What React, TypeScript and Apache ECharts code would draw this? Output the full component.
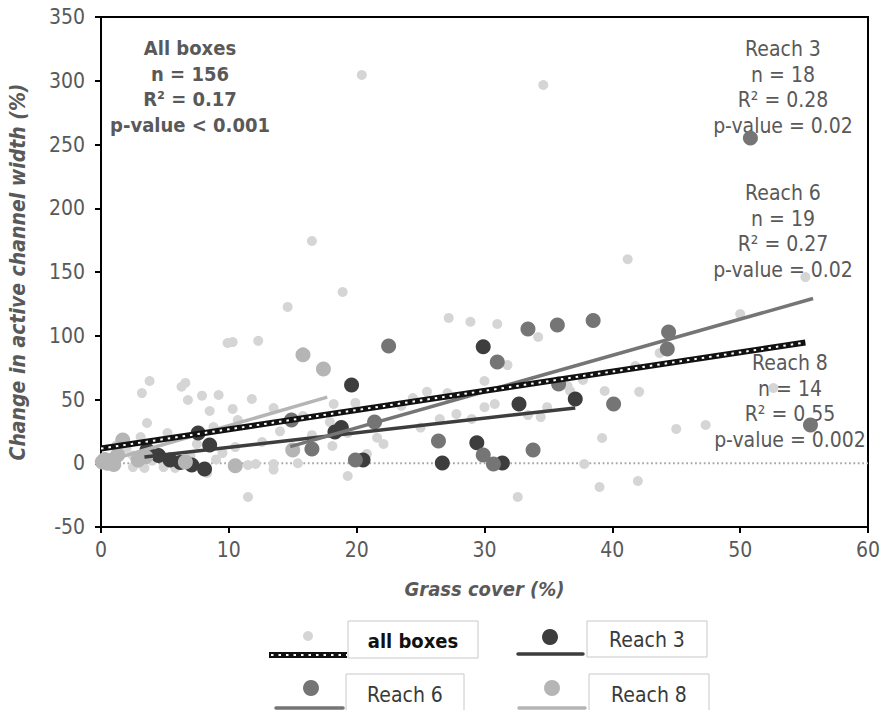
import React, { useEffect, useRef } from "react";
import * as echarts from "echarts";

const FONT = "'DejaVu Sans Condensed', 'DejaVu Sans', sans-serif";
const GRAY_TEXT = "#595959";

const xTickValues = [0, 10, 20, 30, 40, 50, 60];
const yTickValues = [-50, 0, 50, 100, 150, 200, 250, 300, 350];

const seriesNames = ["all boxes", "Reach 3", "Reach 6", "Reach 8"];

// all boxes (small light points) [grass cover %, change in width %]
const allBoxesPoints: [number, number][] = [
  [20.4, 304.5], [34.6, 296.7], [41.2, 160], [16.5, 174.3], [18.9, 134.3], [14.6, 122.6],
  [27.2, 114], [28.9, 111], [31, 109.2], [34.2, 99], [9.9, 94.3], [10.3, 95], [12.3, 96],
  [3.8, 64.5], [3.2, 55], [6.3, 60], [6.6, 63], [7.9, 53], [9.2, 53.5], [6.8, 49.6],
  [11.8, 50.4], [8.5, 41], [10.3, 42.6], [13.5, 43.3], [3.6, 31.6], [8.8, 28.4], [10.7, 33.9],
  [3.1, 20.5], [5.2, 23.7], [10.5, 12.7], [12.6, 16.7], [15.8, 37], [18.2, 46.5], [19.9, 47.3],
  [17.9, 32.3], [18.1, 13.5], [21.6, 20], [22.1, 15.1], [19.3, -10], [11.5, -26.5], [15.4, 0],
  [11.5, -1.4], [12.1, -0.6], [13.5, -0.6], [13.5, -5], [2.5, -3], [3.4, -3.7], [4.9, -3],
  [5.8, -3.7], [8.3, -7.6], [0.5, 2], [1, 5], [1.5, 8], [2, 12], [2.5, 6], [3, 0], [4, 2],
  [4.5, 8], [5, -1], [6, 4], [7, 6], [9, 3], [9.5, 8], [31.8, 77], [30, 64.5], [24.4, 51.2],
  [25.5, 56], [27.1, 55], [27.2, 52], [27.8, 38.6], [26.5, 34.7], [29, 34.7], [30, 44],
  [30.8, 46.5], [33.4, 37.8], [34.4, 36.2], [34.9, 44], [36.5, 60.6], [36.7, 56.7], [37.7, 65.3],
  [39.4, 56.7], [42.1, 56], [41.8, 76.3], [43.7, 86.5], [39.2, 19.8], [45, 26.9], [37.8, -0.6],
  [39, -18.6], [42, -13.9], [32.6, -26.5], [20.8, 7.3], [19.3, 23.7], [47.3, 30], [55.1, 146],
  [50, 117], [52.6, 59], [23.5, 45], [25, 28], [14, 25], [16.5, 22], [7.5, 15], [1.2, 14],
];

const reach3Points: [number, number][] = [
  [3.6, 10.4], [5.4, 2.5], [7.1, -1.4], [8.1, -4.5], [8.5, 14.3], [7.6, 23.7], [18.3, 24.5],
  [19.6, 61.4], [20.5, 2.5], [26.7, 0.2], [29.4, 16], [29.9, 91.3], [31.4, 0.2], [32.7, 46.5],
  [37.1, 50.4], [6.2, 0.5], [4.5, 6], [18.8, 28],
];

const reach6Points: [number, number][] = [
  [50.8, 255], [22.5, 92], [33.4, 105.3], [35.7, 108.4], [38.5, 112], [44.4, 103], [44.3, 89.6],
  [31, 79.5], [35.8, 62.2], [40.1, 46.5], [26.4, 17.5], [29.9, 6.5], [30.7, -0.6], [33.8, 10.4],
  [16.5, 11.2], [21.4, 32.3], [19.9, 2.5], [14.9, 33.9], [55.5, 30],
];

const reach8Points: [number, number][] = [
  [0.1, 1], [0.5, 0], [0.9, 2.5], [1.3, 6.5], [1.7, 18.2], [2.9, 2.5], [3.5, 5], [6.6, 1],
  [10.5, -2], [15, 10.4], [15.8, 85], [17.4, 74], [0.3, 3], [1.0, -1],
];

// trend lines: [intercept, slope, x start, x end]
const trendAll = [11.5, 1.51, 0, 55.1];
const trendReach3 = [1.1, 1.14, 3.4, 37.1];
const trendReach6 = [-29, 2.84, 14.8, 55.7];
const trendReach8 = [0.5, 2.9, 0.3, 17.7];

const zeroLine: [number, number][] = [[0, 0], [60, 0]];

const statsAll = ["All boxes", "n = 156", "R² = 0.17", "p-value < 0.001"];
const statsReach3 = ["Reach 3", "n = 18", "R² = 0.28", "p-value = 0.02"];
const statsReach6 = ["Reach 6", "n = 19", "R² = 0.27", "p-value = 0.02"];
const statsReach8 = ["Reach 8", "n = 14", "R² = 0.55", "p-value = 0.002"];

const COLORS = {
  all: "#d5d5d5",
  r3: "#3d3d3d",
  r6: "#757575",
  r8: "#b5b5b5",
};

const trendLine = (t: number[]) => [
  [t[2], t[0] + t[1] * t[2]],
  [t[3], t[0] + t[1] * t[3]],
];

function statBlock(lines: string[], cx: number, y0: number, bold: boolean) {
  return lines.map((s, i) => ({
    type: "text",
    x: cx,
    y: y0 + i * 25.5,
    style: {
      text: s,
      fill: GRAY_TEXT,
      font: `${bold ? "bold " : ""}${bold ? 20 : 21}px ${FONT}`,
      textAlign: "center",
      textVerticalAlign: "middle",
    },
  }));
}

function legendItem(
  label: string,
  color: string,
  dotX: number,
  dotY: number,
  dotR: number,
  lineX1: number,
  lineX2: number,
  lineY: number,
  boxX: number,
  boxY: number,
  boxW: number,
  boxH: number,
  dotted: boolean,
  bold: boolean
) {
  const els: any[] = [];
  els.push({
    type: "circle",
    shape: { cx: dotX, cy: dotY, r: dotR },
    style: { fill: color },
  });
  if (dotted) {
    els.push({
      type: "line",
      shape: { x1: lineX1, y1: lineY, x2: lineX2, y2: lineY },
      style: { stroke: "#111", lineWidth: 6 },
    });
    els.push({
      type: "line",
      shape: { x1: lineX1 + 2, y1: lineY, x2: lineX2, y2: lineY },
      style: { stroke: "#fff", lineWidth: 2, lineDash: [2.5, 5] },
    });
  } else {
    els.push({
      type: "line",
      shape: { x1: lineX1, y1: lineY, x2: lineX2, y2: lineY },
      style: { stroke: color, lineWidth: 3.5, lineCap: "round" },
    });
  }
  els.push({
    type: "rect",
    shape: { x: boxX, y: boxY, width: boxW, height: boxH },
    style: { fill: "#fff", stroke: "#c8c8c8", lineWidth: 1 },
  });
  els.push({
    type: "text",
    x: boxX + boxW / 2,
    y: boxY + boxH / 2 + 1,
    style: {
      text: label,
      fill: bold ? "#111" : "#3a3a3a",
      font: `${bold ? "bold 20px" : "21px"} ${FONT}`,
      textAlign: "center",
      textVerticalAlign: "middle",
    },
  });
  return els;
}

export default function App() {
  const ref = useRef<HTMLDivElement>(null);

  useEffect(() => {
    if (!ref.current) return;
    const chart = echarts.init(ref.current, null, { renderer: "svg" });

    const axisCommon = {
      type: "value" as const,
      axisLine: { show: true, onZero: false, lineStyle: { color: "#000", width: 2 } },
      axisTick: { show: true, inside: false, length: 6, lineStyle: { color: "#000", width: 2 } },
      splitLine: { show: false },
    };

    const option: any = {
      animation: false,
      backgroundColor: "#fff",
      grid: {
        left: 101,
        right: 15,
        top: 17,
        bottom: 183,
        containLabel: false,
        outerBoundsMode: "none",
        show: true,
        borderColor: "#000",
        borderWidth: 2,
        backgroundColor: "transparent",
      },
      xAxis: {
        ...axisCommon,
        min: xTickValues[0],
        max: xTickValues[xTickValues.length - 1],
        interval: xTickValues[1] - xTickValues[0],
        axisLabel: { color: GRAY_TEXT, fontSize: 21, fontFamily: FONT, margin: 12 },
        name: "Grass cover (%)",
        nameLocation: "middle",
        nameGap: 52,
        nameTextStyle: {
          color: GRAY_TEXT,
          fontSize: 20,
          fontStyle: "italic",
          fontWeight: "bold",
          fontFamily: FONT,
        },
      },
      yAxis: {
        ...axisCommon,
        min: yTickValues[0],
        max: yTickValues[yTickValues.length - 1],
        interval: yTickValues[1] - yTickValues[0],
        axisLabel: { color: GRAY_TEXT, fontSize: 21, fontFamily: FONT, margin: 16 },
        name: "Change in active channel width (%)",
        nameLocation: "middle",
        nameGap: 73,
        nameRotate: 90,
        nameTextStyle: {
          color: GRAY_TEXT,
          fontSize: 21,
          fontStyle: "italic",
          fontWeight: "bold",
          fontFamily: FONT,
        },
      },
      series: [
        {
          type: "line",
          data: zeroLine,
          symbol: "none",
          silent: true,
          lineStyle: { color: "#a8a8a8", width: 2, type: [1.8, 2.6] },
          z: 1,
        },
        {
          name: seriesNames[0],
          type: "scatter",
          data: allBoxesPoints,
          symbolSize: 10,
          itemStyle: { color: COLORS.all, opacity: 1 },
          z: 2,
        },
        {
          name: seriesNames[1],
          type: "scatter",
          data: reach3Points,
          symbolSize: 15,
          itemStyle: { color: COLORS.r3, opacity: 1 },
          z: 3,
        },
        {
          name: seriesNames[2],
          type: "scatter",
          data: reach6Points,
          symbolSize: 15,
          itemStyle: { color: COLORS.r6, opacity: 1 },
          z: 3,
        },
        {
          name: seriesNames[3],
          type: "scatter",
          data: reach8Points,
          symbolSize: 15,
          itemStyle: { color: COLORS.r8, opacity: 1 },
          z: 3,
        },
        {
          type: "line",
          data: trendLine(trendReach8),
          symbol: "none",
          lineStyle: { color: COLORS.r8, width: 3.5 },
          z: 4,
        },
        {
          type: "line",
          data: trendLine(trendReach3),
          symbol: "none",
          lineStyle: { color: COLORS.r3, width: 3.5 },
          z: 4,
        },
        {
          type: "line",
          data: trendLine(trendReach6),
          symbol: "none",
          lineStyle: { color: COLORS.r6, width: 3.5 },
          z: 4,
        },
        {
          type: "line",
          data: trendLine(trendAll),
          symbol: "none",
          lineStyle: { color: "#111", width: 6 },
          z: 5,
        },
        {
          type: "line",
          data: trendLine(trendAll),
          symbol: "none",
          lineStyle: { color: "#fff", width: 2, type: [2.5, 5] },
          z: 6,
        },
      ],
      graphic: [
        ...statBlock(statsAll, 190, 48, true),
        ...statBlock(statsReach3, 783, 49, false),
        ...statBlock(statsReach6, 783, 193, false),
        ...statBlock(statsReach8, 790, 363, false),
        ...legendItem(seriesNames[0], COLORS.all, 308, 636, 5, 269, 347, 655, 348, 621, 130, 37, true, true),
        ...legendItem(seriesNames[1], COLORS.r3, 550, 637, 8, 518, 583, 654, 587, 621, 120, 36, false, false),
        ...legendItem(seriesNames[2], COLORS.r6, 311, 688, 8, 276, 343, 708, 346, 674, 118, 40, false, false),
        ...legendItem(seriesNames[3], COLORS.r8, 552, 688, 8, 519, 585, 708, 589, 674, 120, 40, false, false),
      ],
    };

    chart.setOption(option);
    return () => chart.dispose();
  }, []);

  return (
    <div
      ref={ref}
      style={{ position: "absolute", left: 0, top: 0, width: 883, height: 710, background: "#fff" }}
    />
  );
}
